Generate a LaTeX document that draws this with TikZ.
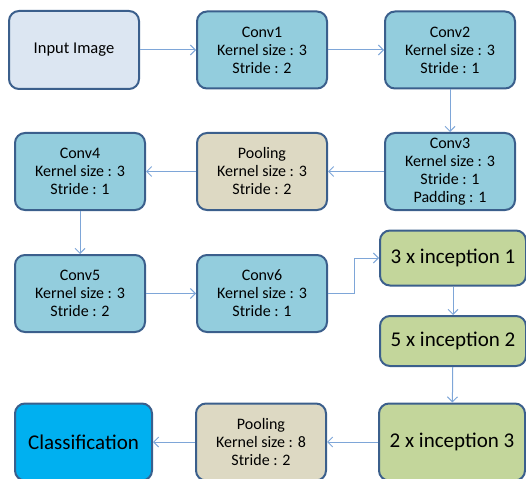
\documentclass[tikz,border=0pt]{standalone}
\usepackage{fontspec}
\setmainfont{Carlito}
\usetikzlibrary{arrows.meta}
\definecolor{bordc}{HTML}{3B5F8C}
\definecolor{inputc}{HTML}{DCE6F2}
\definecolor{convc}{HTML}{93CDDD}
\definecolor{poolc}{HTML}{DDD9C3}
\definecolor{incc}{HTML}{C3D69B}
\definecolor{clsc}{HTML}{00B0F0}
\definecolor{arrc}{HTML}{7EA6D8}
\tikzset{
  boxbase/.style={draw=bordc, line width=2pt, rounded corners=10pt, align=center, inner sep=0pt,
    font=\fontsize{16}{18}\selectfont, text=black},
  inputbox/.style={boxbase, fill=inputc, minimum width=130pt, minimum height=78pt, font=\fontsize{16.5}{18}\selectfont},
  convbox/.style={boxbase, fill=convc, minimum width=130pt, minimum height=77pt},
  poolbox/.style={boxbase, fill=poolc, minimum width=130pt, minimum height=77pt},
  incbox/.style={boxbase, fill=incc, minimum width=146pt, font=\fontsize{21}{24}\selectfont},
  clsbox/.style={boxbase, fill=clsc, minimum width=137pt, minimum height=77pt, font=\fontsize{21}{24}\selectfont},
  conn/.style={draw=arrc, line width=1pt, -{Straight Barb[length=5pt,width=10pt,line width=1pt]}}
}
\begin{document}
\begin{tikzpicture}[x=1pt,y=-1pt]
\useasboundingbox (0,0) rectangle (526,478);
\node[inputbox] (in) at (74,50) {Input Image};
\node[convbox] (c1) at (262,50) {Conv1\\Kernel size : 3\\Stride : 2};
\node[convbox] (c2) at (450,50) {Conv2\\Kernel size : 3\\Stride : 1};
\node[convbox] (c3) at (450,171.5) {Conv3\\Kernel size : 3\\Stride : 1\\Padding : 1};
\node[poolbox] (p1) at (262,171.5) {Pooling\\Kernel size : 3\\Stride : 2};
\node[convbox] (c4) at (80,171.5) {Conv4\\Kernel size : 3\\Stride : 1};
\node[convbox] (c5) at (80,293.5) {Conv5\\Kernel size : 3\\Stride : 2};
\node[convbox] (c6) at (262,293.5) {Conv6\\Kernel size : 3\\Stride : 1};
\node[incbox, minimum height=55pt] (i1) at (453,258) {3 x inception 1};
\node[incbox, minimum height=50pt] (i2) at (453,341) {5 x inception 2};
\node[incbox, minimum height=77pt] (i3) at (452,442) {2 x inception 3};
\node[poolbox] (p2) at (261,442) {Pooling\\Kernel size : 8\\Stride : 2};
\node[clsbox] (cl) at (83.5,442) {Classification};
\coordinate (m1) at (354,293.5);
\coordinate (m2) at (354,258);
\draw[conn] (in) -- (c1);
\draw[conn] (c1) -- (c2);
\draw[conn] (c2) -- (c3);
\draw[conn] (c3) -- (p1);
\draw[conn] (p1) -- (c4);
\draw[conn] (c4) -- (c5);
\draw[conn] (c5) -- (c6);
\draw[conn] (c6.east) -- (m1) -- (m2) -- (i1.west);
\draw[conn] (i1) -- (i2);
\draw[conn] (i2) -- (i3);
\draw[conn] (i3) -- (p2);
\draw[conn] (p2) -- (cl);
\end{tikzpicture}
\end{document}
